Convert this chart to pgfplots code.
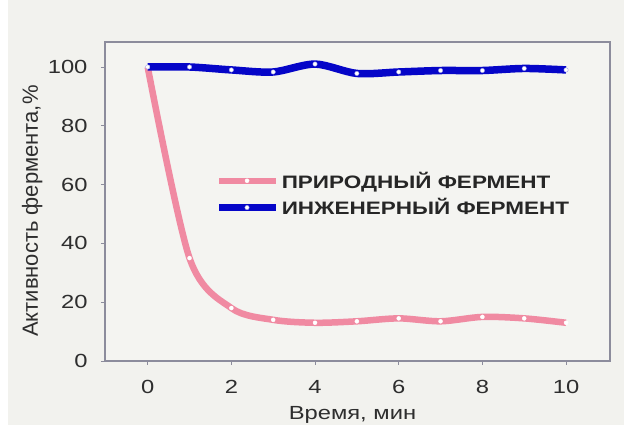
\documentclass[border=0pt]{standalone}
\usepackage{pgfplots}
\pgfplotsset{compat=1.18}
\usepackage{fontspec}
\setmainfont{Liberation Sans}
\newfontfamily\wide[FakeStretch=1.25]{Liberation Sans}
\definecolor{bgc}{HTML}{F2F2EE}
\definecolor{plotbg}{HTML}{F4F4F1}
\definecolor{framec}{HTML}{8C8C9C}
\definecolor{engblue}{HTML}{0505C8}
\definecolor{natpink}{HTML}{F08AA2}
\definecolor{txt}{HTML}{2E2E2E}
\begin{document}
\begin{tikzpicture}[x=1pt,y=1pt]
\fill[bgc] (0,0) rectangle (624,425);
\fill[white] (0,0) rectangle (8,425);
\useasboundingbox (0,0) rectangle (624,425);
\begin{axis}[
    at={(105pt,64pt)}, anchor=south west,
    scale only axis,
    width=505pt, height=319pt,
    xmin=-1.02, xmax=11.05,
    ymin=0, ymax=108.5,
    xtick={0,2,4,6,8,10},
    ytick={0,20,40,60,80,100},
    tick pos=left,
    tick align=outside,
    major tick length=4pt,
    tick style={framec, line width=0.8pt},
    axis line style={framec, line width=1.4pt},
    axis background/.style={fill=plotbg},
    ticklabel style={font=\wide\fontsize{19}{21}\selectfont, text=txt},
    /pgf/number format/assume math mode=true,
    xticklabel style={yshift=-12pt},
    yticklabel style={xshift=-10pt},
    xlabel={Время, мин},
    ylabel={Активность фермента,\%},
    xlabel style={font=\wide\fontsize{19}{21}\selectfont, text=txt,
        at={(axis description cs:0.49,-0.183)}, anchor=base},
    ylabel style={font=\fontsize{22}{24}\selectfont, text=txt,
        at={(axis description cs:-0.1327,0.47)}, anchor=base},
    legend style={at={(0.218,0.523)}, anchor=west, draw=none, fill=none,
        font=\wide\bfseries\fontsize{18}{20}\selectfont, text=black!85,
        inner sep=0pt, row sep=5pt},
    legend cell align=left,
    legend image code/.code={
        \draw[mark repeat=2, mark phase=2, #1] plot coordinates {(0pt,0pt) (28pt,0pt) (57pt,0pt)};
    },
]
\addplot[natpink, line width=6.5pt, smooth, tension=0.5, mark=*, mark size=2pt,
    mark options={fill=white, draw=white, line width=0.4pt}]
coordinates {
    (0,100) (1,35) (2,18) (3,14) (4,13) (5,13.5) (6,14.5) (7,13.5) (8,15) (9,14.5) (10,13)
};
\addlegendentry{ПРИРОДНЫЙ ФЕРМЕНТ}
\addplot[engblue, line width=7.5pt, smooth, tension=0.5, mark=*, mark size=2.2pt,
    mark options={fill=white, draw=engblue!40, line width=0.4pt}]
coordinates {
    (0,100) (1,100) (2,99) (3,98.3) (4,101) (5,97.8) (6,98.3) (7,98.8) (8,98.8) (9,99.5) (10,99)
};
\addlegendentry{ИНЖЕНЕРНЫЙ ФЕРМЕНТ}
\end{axis}
\end{tikzpicture}
\end{document}
